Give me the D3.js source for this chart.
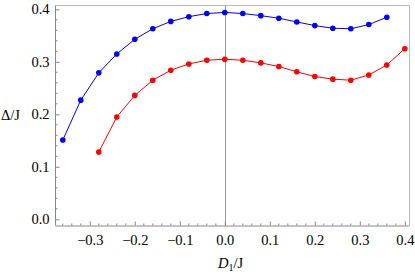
<!DOCTYPE html>
<html><head><meta charset="utf-8">
<script src="https://cdn.jsdelivr.net/npm/d3@7"></script>
<style>body{margin:0;background:#fff}svg{display:block}</style>
</head><body><svg id="c" width="415" height="277"></svg>
<script>
const blueX = [-0.36,-0.32,-0.28,-0.24,-0.20,-0.16,-0.12,-0.08,-0.04,0.00,0.04,0.08,0.12,0.16,0.20,0.24,0.28,0.32,0.36];
const blueY = [0.151,0.227,0.279,0.315,0.343,0.363,0.377,0.386,0.392,0.394,0.392,0.388,0.383,0.376,0.369,0.364,0.363,0.371,0.385];
const redX = [-0.28,-0.24,-0.20,-0.16,-0.12,-0.08,-0.04,0.00,0.04,0.08,0.12,0.16,0.20,0.24,0.28,0.32,0.36,0.40];
const redY = [0.128,0.195,0.236,0.265,0.284,0.296,0.303,0.305,0.303,0.298,0.291,0.281,0.272,0.267,0.265,0.275,0.294,0.325];
const xTicks = [-0.3,-0.2,-0.1,0.0,0.1,0.2,0.3,0.4];
const yTicks = [0.0,0.1,0.2,0.3,0.4];
const FONT = "'Liberation Serif'";

const svg = d3.select("#c");
const L=55.5, R=409.5, T=5.5, B=225.5;
const x = d3.scaleLinear().domain([-0.3762,0.4104]).range([L,R]);
const y = d3.scaleLinear().domain([-0.0118,0.4073]).range([B,T]);

svg.append("path").attr("d",`M${L},${T}H${R}V${B}`).attr("fill","none").attr("stroke","#bbb").attr("stroke-width",1);
svg.append("line").attr("x1",Math.round(x(0))+0.5).attr("x2",Math.round(x(0))+0.5).attr("y1",T).attr("y2",B).attr("stroke","#999").attr("stroke-width",1);

const fmt = d => d<0 ? "\u2212"+Math.abs(d).toFixed(1) : d.toFixed(1);
const xMinor = d3.range(-36,42,2).map(v=>v/100).filter(v=>Math.abs(v*10-Math.round(v*10))>1e-6);
const yMinor = d3.range(0,42,2).map(v=>v/100).filter(v=>Math.abs(v*10-Math.round(v*10))>1e-6);

const xAxis = d3.axisBottom(x).tickValues(xTicks).tickFormat(fmt).tickSizeInner(-4).tickSizeOuter(0).tickPadding(9);
const gx = svg.append("g").attr("transform",`translate(0,${B})`).call(xAxis).attr("font-family",null);
gx.select(".domain").attr("stroke","#888").attr("d",`M${L},0.5H${R}`);
gx.selectAll(".tick line").attr("stroke","#888");
gx.selectAll("text").style("font-family",FONT).style("font-size","14.5px").attr("fill","#000");
gx.selectAll(".minor").data(xMinor).enter().append("line").attr("x1",d=>x(d)).attr("x2",d=>x(d)).attr("y1",0).attr("y2",-2).attr("stroke","#888");

const yAxis = d3.axisLeft(y).tickValues(yTicks).tickFormat(d=>d.toFixed(1)).tickSizeInner(-4).tickSizeOuter(0).tickPadding(6);
const gy = svg.append("g").attr("transform",`translate(${L},0)`).call(yAxis).attr("font-family",null);
gy.select(".domain").attr("stroke","#888").attr("d",`M0,${T}V${B}`);
gy.selectAll(".tick line").attr("stroke","#888");
gy.selectAll("text").style("font-family",FONT).style("font-size","14.5px").attr("fill","#000");
gy.selectAll(".minor").data(yMinor).enter().append("line").attr("y1",d=>y(d)).attr("y2",d=>y(d)).attr("x1",0).attr("x2",2).attr("stroke","#888");

function series(xs, ys, col){
  const pts = xs.map((v,i)=>[v,ys[i]]);
  svg.append("path").datum(pts).attr("fill","none").attr("stroke",col).attr("stroke-width",1)
    .attr("d",d3.line().x(d=>x(d[0])).y(d=>y(d[1])));
  svg.append("g").selectAll("circle").data(pts).enter().append("circle")
    .attr("cx",d=>x(d[0])).attr("cy",d=>y(d[1])).attr("r",2.8).attr("fill",col);
}
series(blueX, blueY, "#0000ff");
series(redX, redY, "#ff0000");

svg.append("text").attr("x",1).attr("y",120).style("font-family",FONT).style("font-size","14.5px").text("\u0394/J");
const xl = svg.append("text").attr("x",218).attr("y",268).style("font-family",FONT).style("font-size","14.5px");
xl.append("tspan").attr("font-style","italic").text("D");
xl.append("tspan").style("font-size","10px").attr("dy",3).text("1");
xl.append("tspan").attr("dy",-3).text("/J");
</script></body></html>
